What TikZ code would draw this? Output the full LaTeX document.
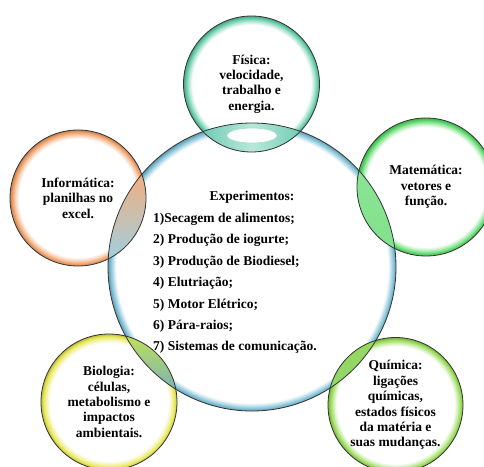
\documentclass[tikz,border=0pt]{standalone}
\usepackage{fontspec}
\setmainfont{Liberation Serif}
\definecolor{cfis}{HTML}{62CBA8}
\definecolor{cinf}{HTML}{F0A068}
\definecolor{cmat}{HTML}{58D866}
\definecolor{cbio}{HTML}{E6E650}
\definecolor{cqui}{HTML}{96DA55}
\definecolor{cbig}{HTML}{7FC0D6}
\pgfdeclareradialshading{rfis}{\pgfpointorigin}{color(0bp)=(white); color(21.8bp)=(white); color(23.1bp)=(cfis!50!white); color(24.2bp)=(cfis); color(25bp)=(cfis!80!black); color(50bp)=(cfis!80!black)}
\pgfdeclareradialshading{rinf}{\pgfpointorigin}{color(0bp)=(white); color(21.8bp)=(white); color(23.1bp)=(cinf!50!white); color(24.2bp)=(cinf); color(25bp)=(cinf!80!black); color(50bp)=(cinf!80!black)}
\pgfdeclareradialshading{rmat}{\pgfpointorigin}{color(0bp)=(white); color(21.8bp)=(white); color(23.1bp)=(cmat!50!white); color(24.2bp)=(cmat); color(25bp)=(cmat!80!black); color(50bp)=(cmat!80!black)}
\pgfdeclareradialshading{rbio}{\pgfpointorigin}{color(0bp)=(white); color(21.8bp)=(white); color(23.1bp)=(cbio!50!white); color(24.2bp)=(cbio); color(25bp)=(cbio!80!black); color(50bp)=(cbio!80!black)}
\pgfdeclareradialshading{rqui}{\pgfpointorigin}{color(0bp)=(white); color(21.8bp)=(white); color(23.1bp)=(cqui!50!white); color(24.2bp)=(cqui); color(25bp)=(cqui!80!black); color(50bp)=(cqui!80!black)}
\pgfdeclareradialshading{rbig}{\pgfpointorigin}{color(0bp)=(white); color(23.6bp)=(white); color(24.1bp)=(cbig!50!white); color(24.6bp)=(cbig); color(25bp)=(cbig!80!black); color(50bp)=(cbig!80!black)}
\begin{document}
\begin{tikzpicture}[x=1pt,y=-1pt,
  bub/.style={circle, inner sep=0pt, align=center,
    font=\bfseries\fontsize{13.5}{15.4}\selectfont},
  small/.style={bub, minimum size=136pt},
  big/.style={bub, minimum size=288pt},
  outline/.style={line width=0.8pt, black!80},
  txt/.style={font=\bfseries\fontsize{13.5}{16}\selectfont, inner sep=0pt}]
\useasboundingbox (0,0) rectangle (484,466);
\path[clip] (0,0) rectangle (484,466);
\fill[white] (0,0) rectangle (484,466);

% circles as named nodes (positions)
\node[big] (big) at (252,267) {};
\node[small] (fis) at (251.5,84) {};
\node[small] (inf) at (78,198) {};
\node[small] (mat) at (426,187) {};
\node[small] (bio) at (109,402) {};
\node[small] (qui) at (395.5,405) {};

% shaded rings
\shade[shading=rbig] (big.center) circle[radius=144pt];
\shade[shading=rfis] (fis.center) circle[radius=68pt];
\shade[shading=rinf] (inf.center) circle[radius=68pt];
\shade[shading=rmat] (mat.center) circle[radius=69pt];
\shade[shading=rbio] (bio.center) circle[radius=68pt];
\shade[shading=rqui] (qui.center) circle[radius=67.5pt];

% lenses
\begin{scope}
  \clip (big.center) circle[radius=144pt];
  \begin{scope}
    \clip (fis.center) circle[radius=68pt];
    \shade[left color=cfis!80!cbig, right color=cfis!80!cbig, middle color=cfis!45!white] (196,118) rectangle (308,156);
    \filldraw[fill=white, draw=cfis!60!white, line width=0.6pt] (252,135.5) ellipse[x radius=25pt, y radius=7.5pt];
  \end{scope}
  \begin{scope}
    \clip (inf.center) circle[radius=68pt];
    \shade[top color=cinf!85!white, middle color=cinf!8!white, bottom color=cbig!75!white] (106,172) rectangle (150,262);
  \end{scope}
  \begin{scope}
    \clip (mat.center) circle[radius=69pt];
    \shade[top color=cmat!70!white, middle color=cmat!85!cbig, bottom color=cmat!75!white] (354,168) rectangle (398,254);
  \end{scope}
  \begin{scope}
    \clip (bio.center) circle[radius=68pt];
    \shade[top color=cbio!75!cmat, bottom color=cbig!90!black] (120,332) rectangle (180,398);
  \end{scope}
  \begin{scope}
    \clip (qui.center) circle[radius=67.5pt];
    \shade[left color=cqui, middle color=cqui!30!white, right color=cqui!70!cbig, shading angle=30] (325,335) rectangle (384,400);
  \end{scope}
\end{scope}

% outlines
\draw[outline] (big.center) circle[radius=144pt];
\draw[outline] (fis.center) circle[radius=68pt];
\draw[outline] (inf.center) circle[radius=68pt];
\draw[outline] (mat.center) circle[radius=69pt];
\draw[outline] (bio.center) circle[radius=68pt];
\draw[outline] (qui.center) circle[radius=67.5pt];

% texts
\node[bub] (tfis) at (fis.center) {Física:\\velocidade,\\trabalho e\\energia.};
\node[bub] (tinf) at (inf.center) {Informática:\\planilhas no\\excel.};
\node[bub] (tmat) at (mat.center) {Matemática:\\vetores e\\função.};
\node[bub] (tbio) at (bio.center) {Biologia:\\células,\\metabolismo e\\impactos\\ambientais.};
\node[bub] (tqui) at (qui.center) {Química:\\ligações\\químicas,\\estados físicos\\da matéria e\\suas mudanças.};

% experiments
\node[txt, anchor=base] (e0) at (252,200.5) {Experimentos:};
\node[txt, anchor=base west] (e1) at (153,222.5) {1)Secagem de alimentos;};
\node[txt, anchor=base west] (e2) at (153,243.9) {2) Produção de iogurte;};
\node[txt, anchor=base west] (e3) at (153,265.3) {3) Produção de Biodiesel;};
\node[txt, anchor=base west] (e4) at (153,286.7) {4) Elutriação;};
\node[txt, anchor=base west] (e5) at (153,308.1) {5) Motor Elétrico;};
\node[txt, anchor=base west] (e6) at (153,329.5) {6) Pára-raios;};
\node[txt, anchor=base west] (e7) at (153,350.9) {7) Sistemas de comunicação.};
\end{tikzpicture}
\end{document}
